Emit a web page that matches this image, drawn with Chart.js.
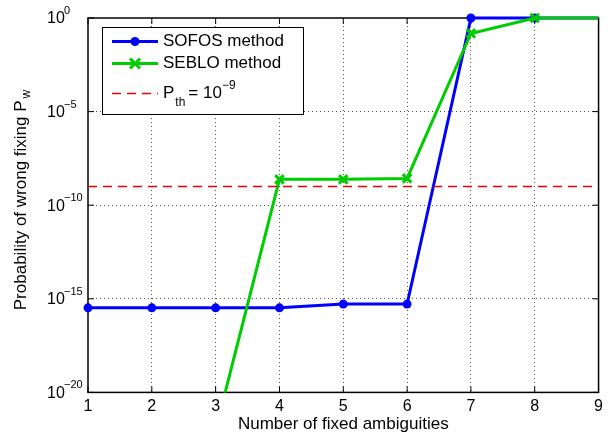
<!DOCTYPE html>
<html>
<head>
<meta charset="utf-8">
<script src="https://cdn.jsdelivr.net/npm/chart.js@4.4.1/dist/chart.umd.min.js"></script>
<style>
  html, body { margin: 0; padding: 0; background: #fff; }
</style>
</head>
<body>
<canvas id="chart" width="608" height="436"></canvas>
<script>
// datos
const ambiguities = [1, 2, 3, 4, 5, 6, 7, 8, 9];
const sofos = [3.3e-16, 3.3e-16, 3.3e-16, 3.3e-16, 5.2e-16, 5.2e-16, 1, 1, 1];
const seblo = [null, null, 1e-22, 2.4e-9, 2.4e-9, 2.7e-9, 0.15, 1, 1];
const pThreshold = 1e-9;
const yTickExponents = [0, -5, -10, -15, -20];
const seriesNames = ["SOFOS method", "SEBLO method"];

const FONT = '"Liberation Sans", Arial, Helvetica, sans-serif';
const BLUE = "rgb(0, 0, 255)";
const GREEN = "rgb(0, 205, 0)";
const RED = "rgb(235, 0, 0)";

const noEdge = (ctx) =>
  ctx.index === 0 || ctx.index === ctx.chart.scales[ctx.scale.id].ticks.length - 1
    ? "rgba(0,0,0,0)" : "rgba(60,60,60,0.9)";

// ejes: caja, marcas interiores y etiquetas del eje y
const axesPlugin = {
  id: "axesBox",
  beforeDatasetsDraw(chart) {
    const { ctx, chartArea: a, scales } = chart;
    ctx.save();
    ctx.strokeStyle = "#000";
    ctx.lineWidth = 1.5;
    ctx.strokeRect(a.left, a.top, a.right - a.left, a.bottom - a.top);
    ctx.lineWidth = 1;
    ctx.beginPath();
    ambiguities.forEach((v) => {
      const px = scales.x.getPixelForValue(v);
      ctx.moveTo(px, a.bottom); ctx.lineTo(px, a.bottom - 6);
      ctx.moveTo(px, a.top); ctx.lineTo(px, a.top + 6);
    });
    yTickExponents.forEach((e) => {
      const py = scales.y.getPixelForValue(Math.pow(10, e));
      ctx.moveTo(a.left, py); ctx.lineTo(a.left + 6, py);
      ctx.moveTo(a.right, py); ctx.lineTo(a.right - 6, py);
    });
    ctx.stroke();

    ctx.fillStyle = "#000";
    ctx.textAlign = "left";
    ctx.textBaseline = "middle";
    yTickExponents.forEach((e) => {
      const py = scales.y.getPixelForValue(Math.pow(10, e));
      ctx.font = "16px " + FONT;
      ctx.fillText("10", 47, py + 1);
      ctx.font = "11px " + FONT;
      ctx.fillText(e === 0 ? "0" : "\u2212" + -e, 64, py - 7);
    });

    // título del eje y con subíndice
    ctx.save();
    ctx.translate(21, 200);
    ctx.rotate(-Math.PI / 2);
    ctx.font = "17px " + FONT;
    const main = "Probability of wrong fixing P";
    const wMain = ctx.measureText(main).width;
    ctx.font = "12px " + FONT;
    const wSub = ctx.measureText("w").width;
    const x0 = -(wMain + wSub + 2) / 2;
    ctx.font = "17px " + FONT;
    ctx.fillText(main, x0, 0);
    ctx.font = "12px " + FONT;
    ctx.fillText("w", x0 + wMain + 2, 6);
    ctx.restore();
    ctx.restore();
  },
  afterDraw(chart) {
    const { ctx } = chart;
    ctx.save();
    // leyenda
    ctx.fillStyle = "#fff";
    ctx.fillRect(102, 27, 201, 87);
    ctx.strokeStyle = "#000";
    ctx.lineWidth = 1;
    ctx.strokeRect(102.5, 27.5, 201, 87);

    const rows = [41.5, 63.5];
    const colors = [BLUE, GREEN];
    rows.forEach((ry, i) => {
      ctx.strokeStyle = colors[i];
      ctx.lineWidth = 3;
      ctx.beginPath();
      ctx.moveTo(112, ry); ctx.lineTo(158, ry);
      ctx.stroke();
      if (i === 0) {
        ctx.fillStyle = BLUE;
        ctx.beginPath();
        ctx.arc(135, ry, 4.5, 0, Math.PI * 2);
        ctx.fill();
      } else {
        ctx.beginPath();
        ctx.moveTo(130, ry - 5); ctx.lineTo(140, ry + 5);
        ctx.moveTo(140, ry - 5); ctx.lineTo(130, ry + 5);
        ctx.stroke();
      }
      ctx.fillStyle = "#000";
      ctx.font = "17px " + FONT;
      ctx.textAlign = "left";
      ctx.textBaseline = "middle";
      ctx.fillText(seriesNames[i], 163, ry);
    });

    const ry = 93.5;
    ctx.strokeStyle = RED;
    ctx.lineWidth = 1.5;
    ctx.setLineDash([9, 6]);
    ctx.beginPath();
    ctx.moveTo(112, ry); ctx.lineTo(158, ry);
    ctx.stroke();
    ctx.setLineDash([]);
    ctx.fillStyle = "#000";
    ctx.textBaseline = "middle";
    let x = 163;
    ctx.font = "17px " + FONT;
    ctx.fillText("P", x, ry); x += ctx.measureText("P").width + 1;
    ctx.font = "12px " + FONT;
    ctx.fillText("th", x, ry + 9); x += ctx.measureText("th").width + 3;
    ctx.font = "17px " + FONT;
    ctx.fillText("= 10", x, ry); x += ctx.measureText("= 10").width;
    ctx.font = "12px " + FONT;
    ctx.fillText("\u22129", x, ry - 8);
    ctx.restore();
  },
};

new Chart(document.getElementById("chart").getContext("2d"), {
  type: "line",
  data: {
    datasets: [
      {
        label: "SOFOS method",
        data: ambiguities.map((a, i) => ({ x: a, y: sofos[i] })),
        borderColor: BLUE,
        backgroundColor: BLUE,
        borderWidth: 3,
        pointRadius: ambiguities.map((a) => (a === 9 ? 0 : 4.5)),
        pointBorderWidth: 0,
        order: 2,
        clip: { left: 8, top: 8, right: 0, bottom: 0 },
      },
      {
        label: "SEBLO method",
        data: ambiguities.map((a, i) => ({ x: a, y: seblo[i] })),
        borderColor: GREEN,
        backgroundColor: GREEN,
        borderWidth: 3,
        pointStyle: "crossRot",
        pointRadius: ambiguities.map((a) => (a === 9 ? 0 : 6)),
        pointBorderWidth: 3,
        spanGaps: false,
        order: 1,
        clip: { left: 8, top: 8, right: 0, bottom: 0 },
      },
      {
        label: "P_th",
        data: [{ x: 1, y: pThreshold }, { x: 9, y: pThreshold }],
        borderColor: RED,
        backgroundColor: RED,
        borderWidth: 1.5,
        borderDash: [9, 6],
        pointRadius: 0,
        order: 0,
      },
    ],
  },
  options: {
    responsive: false,
    animation: false,
    layout: { padding: { left: 88, right: 9, top: 18, bottom: 0 } },
    plugins: { legend: { display: false }, tooltip: { enabled: false } },
    elements: { line: { tension: 0 } },
    scales: {
      x: {
        type: "linear",
        min: 1,
        max: 9,
        ticks: {
          stepSize: 1,
          color: "#000",
          font: { size: 16, family: FONT },
          padding: 5,
        },
        grid: { color: noEdge, drawTicks: false, lineWidth: 1 },
        border: { display: false, dash: [1, 3] },
        title: {
          display: true,
          text: "Number of fixed ambiguities",
          color: "#000",
          font: { size: 17, family: FONT },
          padding: { top: -7, bottom: 1 },
        },
      },
      y: {
        type: "logarithmic",
        min: 1e-20,
        max: 1,
        afterBuildTicks: (axis) => {
          axis.ticks = yTickExponents.map((e) => ({ value: Math.pow(10, e) }));
        },
        ticks: { display: false },
        grid: { color: noEdge, drawTicks: false, lineWidth: 1 },
        border: { display: false, dash: [1, 3] },
      },
    },
  },
  plugins: [axesPlugin],
});
</script>
</body>
</html>
